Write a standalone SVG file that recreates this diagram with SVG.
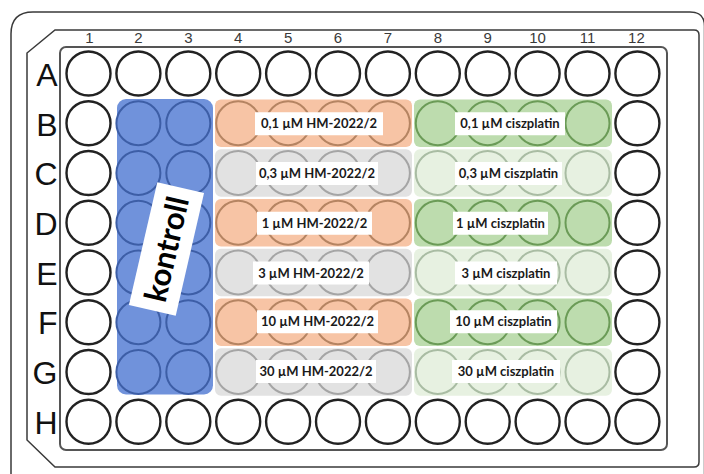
<svg xmlns="http://www.w3.org/2000/svg" width="704" height="474" viewBox="0 0 704 474">
<style>
.frame{fill:none;stroke:#3a3a3a;stroke-width:1.5}
.inner{fill:none;stroke:#555;stroke-width:2}
circle{stroke-width:2.4}
.w{fill:#fff;stroke:#222}
.wb{fill:none;stroke:#3d5ea6;stroke-width:2}
.wo{fill:none;stroke:#b58462;stroke-width:2}
.wg{fill:none;stroke:#a5a5a5;stroke-width:2}
.wd{fill:none;stroke:#6b9b57;stroke-width:2}
.wl{fill:none;stroke:#a9bca3;stroke-width:2}
.bo{fill:#f7c4a5}
.bg{fill:#e2e2e2}
.bd{fill:#bddcae}
.bl{fill:#e7f1e1}
.col{font-family:"Liberation Sans",Arial,sans-serif;font-size:15px;fill:#3a3a3a;text-anchor:middle}
.row{font-family:"Liberation Sans",Arial,sans-serif;font-size:32px;fill:#111;text-anchor:end}
.box{fill:#fff}
.lab{font-family:Lato,"Open Sans",sans-serif;font-weight:700;font-size:13px;fill:#1a1a1a;text-anchor:middle}
.kon{font-family:Lato,"Open Sans",sans-serif;font-weight:700;font-size:31px;fill:#000;text-anchor:middle}
</style>
<rect width="704" height="474" fill="#fff"/>
<g id="plate-frame">
<path class="frame" d="M11,480 L11,34 Q11,12 33,12 L690,12 Q704.5,12 704.5,26 L704.5,480"/>
<path class="frame" d="M55,30 L694,30 Q699,30 699,35 L699,462 Q699,467 694,467 L55,467 L27,440 L27,53 Z"/>
<rect class="inner" x="60" y="47" width="607" height="403" rx="6"/>
</g>
<g id="column-labels">
<text class="col" x="89.5" y="43">1</text>
<text class="col" x="138.4" y="43">2</text>
<text class="col" x="188.3" y="43">3</text>
<text class="col" x="238.2" y="43">4</text>
<text class="col" x="288.1" y="43">5</text>
<text class="col" x="338" y="43">6</text>
<text class="col" x="387.9" y="43">7</text>
<text class="col" x="437.8" y="43">8</text>
<text class="col" x="487.7" y="43">9</text>
<text class="col" x="537.6" y="43">10</text>
<text class="col" x="587.5" y="43">11</text>
<text class="col" x="636.4" y="43">12</text>
</g>
<g id="row-labels">
<text class="row" x="57.5" y="86">A</text>
<text class="row" x="57.5" y="135.5">B</text>
<text class="row" x="57.5" y="185">C</text>
<text class="row" x="57.5" y="235">D</text>
<text class="row" x="57.5" y="284.5">E</text>
<text class="row" x="57.5" y="334">F</text>
<text class="row" x="57.5" y="384">G</text>
<text class="row" x="57.5" y="433.5">H</text>
</g>
<g id="bands">
<rect id="kontroll-band" x="117" y="99" width="96" height="295.5" rx="9" fill="#7092db"/>
<rect class="bo" x="215" y="99.5" width="197" height="47.5" rx="6"/>
<rect class="bg" x="215" y="149.25" width="197" height="47.5" rx="6"/>
<rect class="bo" x="215" y="199" width="197" height="47.5" rx="6"/>
<rect class="bg" x="215" y="248.75" width="197" height="47.5" rx="6"/>
<rect class="bo" x="215" y="298.5" width="197" height="47.5" rx="6"/>
<rect class="bg" x="215" y="348.25" width="197" height="47.5" rx="6"/>
<rect class="bd" x="414" y="99.5" width="198" height="47.5" rx="6"/>
<rect class="bl" x="414" y="149.25" width="198" height="47.5" rx="6"/>
<rect class="bd" x="414" y="199" width="198" height="47.5" rx="6"/>
<rect class="bl" x="414" y="248.75" width="198" height="47.5" rx="6"/>
<rect class="bd" x="414" y="298.5" width="198" height="47.5" rx="6"/>
<rect class="bl" x="414" y="348.25" width="198" height="47.5" rx="6"/>
</g>
<g id="row-A">
<circle class="w" cx="88.5" cy="73.5" r="22"/><circle class="w" cx="138.4" cy="73.5" r="22"/><circle class="w" cx="188.3" cy="73.5" r="22"/><circle class="w" cx="238.2" cy="73.5" r="22"/><circle class="w" cx="288.1" cy="73.5" r="22"/><circle class="w" cx="338" cy="73.5" r="22"/><circle class="w" cx="387.9" cy="73.5" r="22"/><circle class="w" cx="437.8" cy="73.5" r="22"/><circle class="w" cx="487.7" cy="73.5" r="22"/><circle class="w" cx="537.6" cy="73.5" r="22"/><circle class="w" cx="587.5" cy="73.5" r="22"/><circle class="w" cx="637.4" cy="73.5" r="22"/>
</g>
<g id="row-B">
<circle class="w" cx="88.5" cy="123.25" r="22"/><circle class="wb" cx="138.4" cy="123.25" r="22"/><circle class="wb" cx="188.3" cy="123.25" r="22"/><circle class="wo" cx="238.2" cy="123.25" r="22"/><circle class="wo" cx="288.1" cy="123.25" r="22"/><circle class="wo" cx="338" cy="123.25" r="22"/><circle class="wo" cx="387.9" cy="123.25" r="22"/><circle class="wd" cx="437.8" cy="123.25" r="22"/><circle class="wd" cx="487.7" cy="123.25" r="22"/><circle class="wd" cx="537.6" cy="123.25" r="22"/><circle class="wd" cx="587.5" cy="123.25" r="22"/><circle class="w" cx="637.4" cy="123.25" r="22"/>
</g>
<g id="row-C">
<circle class="w" cx="88.5" cy="173" r="22"/><circle class="wb" cx="138.4" cy="173" r="22"/><circle class="wb" cx="188.3" cy="173" r="22"/><circle class="wg" cx="238.2" cy="173" r="22"/><circle class="wg" cx="288.1" cy="173" r="22"/><circle class="wg" cx="338" cy="173" r="22"/><circle class="wg" cx="387.9" cy="173" r="22"/><circle class="wl" cx="437.8" cy="173" r="22"/><circle class="wl" cx="487.7" cy="173" r="22"/><circle class="wl" cx="537.6" cy="173" r="22"/><circle class="wl" cx="587.5" cy="173" r="22"/><circle class="w" cx="637.4" cy="173" r="22"/>
</g>
<g id="row-D">
<circle class="w" cx="88.5" cy="222.75" r="22"/><circle class="wb" cx="138.4" cy="222.75" r="22"/><circle class="wb" cx="188.3" cy="222.75" r="22"/><circle class="wo" cx="238.2" cy="222.75" r="22"/><circle class="wo" cx="288.1" cy="222.75" r="22"/><circle class="wo" cx="338" cy="222.75" r="22"/><circle class="wo" cx="387.9" cy="222.75" r="22"/><circle class="wd" cx="437.8" cy="222.75" r="22"/><circle class="wd" cx="487.7" cy="222.75" r="22"/><circle class="wd" cx="537.6" cy="222.75" r="22"/><circle class="wd" cx="587.5" cy="222.75" r="22"/><circle class="w" cx="637.4" cy="222.75" r="22"/>
</g>
<g id="row-E">
<circle class="w" cx="88.5" cy="272.5" r="22"/><circle class="wb" cx="138.4" cy="272.5" r="22"/><circle class="wb" cx="188.3" cy="272.5" r="22"/><circle class="wg" cx="238.2" cy="272.5" r="22"/><circle class="wg" cx="288.1" cy="272.5" r="22"/><circle class="wg" cx="338" cy="272.5" r="22"/><circle class="wg" cx="387.9" cy="272.5" r="22"/><circle class="wl" cx="437.8" cy="272.5" r="22"/><circle class="wl" cx="487.7" cy="272.5" r="22"/><circle class="wl" cx="537.6" cy="272.5" r="22"/><circle class="wl" cx="587.5" cy="272.5" r="22"/><circle class="w" cx="637.4" cy="272.5" r="22"/>
</g>
<g id="row-F">
<circle class="w" cx="88.5" cy="322.25" r="22"/><circle class="wb" cx="138.4" cy="322.25" r="22"/><circle class="wb" cx="188.3" cy="322.25" r="22"/><circle class="wo" cx="238.2" cy="322.25" r="22"/><circle class="wo" cx="288.1" cy="322.25" r="22"/><circle class="wo" cx="338" cy="322.25" r="22"/><circle class="wo" cx="387.9" cy="322.25" r="22"/><circle class="wd" cx="437.8" cy="322.25" r="22"/><circle class="wd" cx="487.7" cy="322.25" r="22"/><circle class="wd" cx="537.6" cy="322.25" r="22"/><circle class="wd" cx="587.5" cy="322.25" r="22"/><circle class="w" cx="637.4" cy="322.25" r="22"/>
</g>
<g id="row-G">
<circle class="w" cx="88.5" cy="372" r="22"/><circle class="wb" cx="138.4" cy="372" r="22"/><circle class="wb" cx="188.3" cy="372" r="22"/><circle class="wg" cx="238.2" cy="372" r="22"/><circle class="wg" cx="288.1" cy="372" r="22"/><circle class="wg" cx="338" cy="372" r="22"/><circle class="wg" cx="387.9" cy="372" r="22"/><circle class="wl" cx="437.8" cy="372" r="22"/><circle class="wl" cx="487.7" cy="372" r="22"/><circle class="wl" cx="537.6" cy="372" r="22"/><circle class="wl" cx="587.5" cy="372" r="22"/><circle class="w" cx="637.4" cy="372" r="22"/>
</g>
<g id="row-H">
<circle class="w" cx="88.5" cy="421.75" r="22"/><circle class="w" cx="138.4" cy="421.75" r="22"/><circle class="w" cx="188.3" cy="421.75" r="22"/><circle class="w" cx="238.2" cy="421.75" r="22"/><circle class="w" cx="288.1" cy="421.75" r="22"/><circle class="w" cx="338" cy="421.75" r="22"/><circle class="w" cx="387.9" cy="421.75" r="22"/><circle class="w" cx="437.8" cy="421.75" r="22"/><circle class="w" cx="487.7" cy="421.75" r="22"/><circle class="w" cx="537.6" cy="421.75" r="22"/><circle class="w" cx="587.5" cy="421.75" r="22"/><circle class="w" cx="637.4" cy="421.75" r="22"/>
</g>
<g id="hm-labels">
<rect class="box" x="255" y="112.25" width="128" height="23"/><text class="lab" x="319" y="128.25">0,1 µM HM-2022/2</text>
<rect class="box" x="256" y="162" width="122" height="23"/><text class="lab" x="317" y="178">0,3 µM HM-2022/2</text>
<rect class="box" x="257" y="211.75" width="115" height="23"/><text class="lab" x="314.5" y="227.75">1 µM HM-2022/2</text>
<rect class="box" x="253" y="261.5" width="116" height="23"/><text class="lab" x="311" y="277.5">3 µM HM-2022/2</text>
<rect class="box" x="257" y="310.25" width="121" height="23"/><text class="lab" x="317.5" y="326.25">10 µM HM-2022/2</text>
<rect class="box" x="256" y="360" width="120" height="23"/><text class="lab" x="316" y="376">30 µM HM-2022/2</text>
</g>
<g id="ciszplatin-labels">
<rect class="box" x="455" y="112.25" width="110" height="23"/><text class="lab" x="510" y="128.25">0,1 µM ciszplatin</text>
<rect class="box" x="455" y="162" width="107" height="23"/><text class="lab" x="508.5" y="178">0,3 µM ciszplatin</text>
<rect class="box" x="453" y="211.75" width="95" height="23"/><text class="lab" x="500.5" y="227.75">1 µM ciszplatin</text>
<rect class="box" x="455" y="261.5" width="102" height="23"/><text class="lab" x="506" y="277.5">3 µM ciszplatin</text>
<rect class="box" x="450" y="310.25" width="107" height="23"/><text class="lab" x="503.5" y="326.25">10 µM ciszplatin</text>
<rect class="box" x="452" y="360" width="108" height="23"/><text class="lab" x="506" y="376">30 µM ciszplatin</text>
</g>
<g id="kontroll-label" transform="translate(166.5,249) rotate(-77)">
<rect class="box" x="-63" y="-24" width="126" height="48"/>
<text class="kon" x="0" y="11">kontroll</text>
</g>
</svg>
